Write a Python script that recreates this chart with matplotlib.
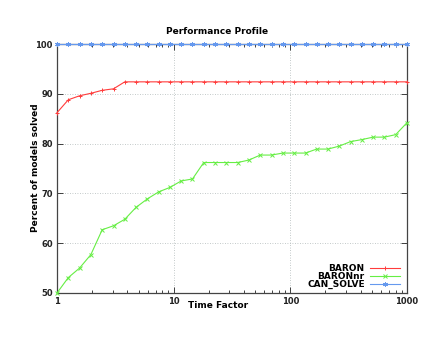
import matplotlib

matplotlib.use("Agg")
import matplotlib.pyplot as plt
from matplotlib.ticker import FixedLocator, LogLocator, NullFormatter

# time factor grid (32 samples, log-spaced from 1 to 1000)
TIME_FACTOR = [
    1.0, 1.25, 1.56, 1.95, 2.44, 3.05, 3.81, 4.76, 5.95, 7.43,
    9.28, 11.6, 14.5, 18.1, 22.6, 28.3, 35.4, 44.2, 55.2, 69.0,
    86.2, 108, 135, 168, 210, 263, 328, 410, 512, 640,
    800, 1000,
]

BARON = [
    86.2, 88.8, 89.6, 90.1, 90.7, 91.0, 92.4, 92.4, 92.4, 92.4,
    92.4, 92.4, 92.4, 92.4, 92.4, 92.4, 92.4, 92.4, 92.4, 92.4,
    92.4, 92.4, 92.4, 92.4, 92.4, 92.4, 92.4, 92.4, 92.4, 92.4,
    92.4, 92.4,
]

BARON_NR = [
    50.0, 53.1, 55.0, 57.7, 62.7, 63.5, 64.8, 67.2, 68.9, 70.3,
    71.2, 72.5, 72.9, 76.2, 76.2, 76.2, 76.2, 76.7, 77.7, 77.7,
    78.1, 78.1, 78.1, 78.9, 78.9, 79.5, 80.4, 80.8, 81.3, 81.3,
    81.8, 84.2,
]

CAN_SOLVE = [100.0] * 32

SERIES = [
    ("BARON", BARON, "#ff3c3c", "+"),
    ("BARONnr", BARON_NR, "#66ee44", "x"),
    ("CAN_SOLVE", CAN_SOLVE, "#6699ee", (6, 2, 0)),
]


def main() -> int:
    fig = plt.figure(figsize=(4.4, 3.4), dpi=100)
    fig.patch.set_facecolor("white")
    ax = fig.add_axes((57 / 440, 1 - 293 / 340, 350 / 440, 249 / 340))

    for label, values, color, marker in SERIES:
        ax.plot(
            TIME_FACTOR,
            values,
            color=color,
            linewidth=0.8,
            marker=marker,
            markersize=3.5,
            markeredgewidth=0.7,
            label=label,
            clip_on=False,
            zorder=3,
        )

    ax.set_xscale("log")
    ax.set_xlim(1, 1000)
    ax.set_ylim(50, 100)
    ax.xaxis.set_major_locator(FixedLocator([1, 10, 100, 1000]))
    ax.xaxis.set_minor_locator(LogLocator(base=10, subs=range(2, 10)))
    ax.xaxis.set_minor_formatter(NullFormatter())
    ax.set_xticklabels(["1", "10", "100", "1000"])
    ax.set_yticks([50, 60, 70, 80, 90, 100])
    ax.set_yticklabels(["50", "60", "70", "80", "90", "100"])

    ax.tick_params(
        which="both", direction="in", top=True, right=True,
        labelsize=6, width=0.6, colors="#222222", pad=3,
    )
    ax.tick_params(which="major", length=4)
    ax.tick_params(which="minor", length=2)
    for lbl in ax.get_xticklabels() + ax.get_yticklabels():
        lbl.set_fontweight("bold")

    ax.grid(True, which="major", color="#b0b8b8", linestyle=(0, (1, 2)), linewidth=0.6)
    for spine in ax.spines.values():
        spine.set_color("#444444")
        spine.set_linewidth(0.9)

    fig.text(217 / 440, 1 - 31 / 340, "Performance Profile", ha="center", va="center",
             fontsize=6.5, fontweight="bold")
    fig.text(218 / 440, 1 - 305 / 340, "Time Factor", ha="center", va="center",
             fontsize=6.5, fontweight="bold")
    fig.text(36 / 440, 1 - 168 / 340, "Percent of models solved", ha="center", va="center",
             rotation=90, fontsize=6.5, fontweight="bold")

    leg = ax.legend(
        loc="lower right",
        bbox_to_anchor=(0.99, 0.0),
        markerfirst=False,
        frameon=False,
        fontsize=6.5,
        handlelength=3.3,
        handletextpad=0.6,
        labelspacing=-0.1,
        borderaxespad=0.2,
        borderpad=0.2,
    )
    for text in leg.get_texts():
        text.set_fontweight("bold")

    fig.savefig("out.png", dpi=100)
    plt.close(fig)
    return 0


if __name__ == "__main__":
    raise SystemExit(main())
